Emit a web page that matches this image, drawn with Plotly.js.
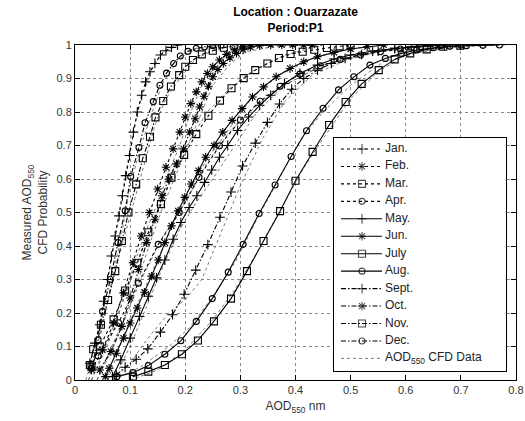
<!DOCTYPE html>
<html>
<head>
<meta charset="utf-8">
<script src="https://cdn.plot.ly/plotly-3.0.1.min.js"></script>
<style>html,body{margin:0;padding:0;background:#fff}</style>
</head>
<body>
<div id="chart" style="width:525px;height:421px"></div>
<script>
// ---- fitted CFD curves (AOD550 vs probability) ----
const janX = [0.027,0.036,0.045,0.052,0.059,0.066,0.073,0.080,0.086,0.092,0.099,0.106,0.113,0.121,0.128,0.136,0.145,0.155,0.165,0.175,0.186];
const janY = [0.05,0.11,0.165,0.235,0.30,0.37,0.43,0.49,0.55,0.61,0.67,0.74,0.80,0.85,0.89,0.92,0.945,0.97,0.983,0.993,1.0];
const febX = [0.030,0.050,0.070,0.088,0.105,0.120,0.135,0.150,0.165,0.178,0.190,0.200,0.210,0.220,0.230,0.240,0.250,0.262,0.275,0.290,0.305,0.320];
const febY = [0.03,0.09,0.17,0.26,0.35,0.43,0.50,0.57,0.635,0.69,0.74,0.785,0.825,0.86,0.89,0.915,0.935,0.955,0.972,0.985,0.995,1.0];
const marX = [0.030,0.045,0.070,0.091,0.113,0.133,0.156,0.175,0.198,0.220,0.242,0.263,0.284,0.306,0.327,0.349,0.370,0.391,0.413,0.434,0.457,0.480,0.500];
const marY = [0.04,0.10,0.181,0.267,0.35,0.441,0.525,0.604,0.672,0.734,0.789,0.834,0.871,0.901,0.925,0.945,0.961,0.973,0.98,0.986,0.991,0.996,1.0];
const aprX = [0.042,0.079,0.115,0.151,0.189,0.225,0.262,0.300,0.336,0.372,0.408,0.445,0.481,0.518,0.554,0.590,0.627,0.663,0.700];
const aprY = [0.072,0.171,0.289,0.405,0.50,0.605,0.699,0.776,0.832,0.877,0.913,0.938,0.957,0.970,0.980,0.988,0.994,0.998,1.0];
const mayX = [0.068,0.083,0.100,0.117,0.133,0.148,0.163,0.178,0.192,0.207,0.221,0.235,0.248,0.262,0.277,0.295,0.315,0.335,0.355,0.380,0.408,0.440,0.470,0.500,0.540,0.580,0.620,0.660];
const mayY = [0.01,0.06,0.125,0.19,0.25,0.305,0.358,0.42,0.47,0.515,0.55,0.59,0.627,0.665,0.70,0.745,0.785,0.82,0.85,0.885,0.915,0.94,0.958,0.97,0.982,0.99,0.996,1.0];
const junX = [0.055,0.062,0.075,0.088,0.100,0.113,0.126,0.139,0.151,0.163,0.175,0.187,0.199,0.211,0.224,0.237,0.252,0.268,0.285,0.303,0.322,0.342,0.365,0.390,0.415,0.440,0.470,0.500,0.530,0.560];
const junY = [0.01,0.035,0.08,0.125,0.17,0.215,0.262,0.31,0.358,0.41,0.46,0.505,0.545,0.585,0.625,0.665,0.70,0.74,0.775,0.81,0.845,0.875,0.905,0.93,0.95,0.965,0.978,0.988,0.995,1.0];
const julX = [0.105,0.133,0.163,0.194,0.223,0.252,0.283,0.312,0.342,0.372,0.400,0.431,0.461,0.491,0.520,0.551,0.580,0.608,0.638,0.668,0.699];
const julY = [0.01,0.025,0.045,0.077,0.118,0.175,0.243,0.325,0.415,0.504,0.595,0.681,0.761,0.83,0.884,0.925,0.957,0.975,0.987,0.995,0.998];
const augX = [0.076,0.105,0.133,0.163,0.192,0.220,0.249,0.278,0.305,0.334,0.363,0.392,0.420,0.450,0.478,0.506,0.535,0.563,0.592,0.620,0.650,0.680,0.710,0.740,0.770];
const augY = [0.01,0.022,0.043,0.077,0.117,0.175,0.243,0.322,0.405,0.497,0.582,0.667,0.744,0.811,0.866,0.905,0.94,0.96,0.975,0.985,0.992,0.996,0.998,0.999,1.0];
const sepX = [0.075,0.091,0.111,0.132,0.155,0.177,0.198,0.219,0.241,0.263,0.283,0.304,0.327,0.349,0.371,0.393,0.415,0.440,0.465,0.490,0.520,0.550,0.580,0.610,0.640,0.670];
const sepY = [0.015,0.038,0.062,0.093,0.143,0.195,0.256,0.328,0.404,0.486,0.561,0.639,0.707,0.769,0.824,0.868,0.90,0.925,0.945,0.96,0.972,0.982,0.99,0.995,0.998,1.0];
const octX = [0.045,0.065,0.085,0.100,0.115,0.130,0.145,0.158,0.170,0.184,0.197,0.208,0.218,0.226,0.234,0.242,0.250,0.259,0.269,0.281,0.293,0.305,0.318,0.335,0.355,0.375,0.395,0.415,0.430];
const octY = [0.03,0.085,0.16,0.245,0.33,0.41,0.48,0.55,0.60,0.645,0.69,0.74,0.78,0.815,0.847,0.877,0.905,0.927,0.945,0.962,0.975,0.986,0.994,0.998,1.0,1.0,1.0,1.0,1.0];
const novX = [0.027,0.033,0.047,0.060,0.073,0.085,0.097,0.111,0.123,0.136,0.146,0.160,0.174,0.189,0.200,0.214,0.230,0.250,0.270,0.289];
const novY = [0.045,0.092,0.165,0.239,0.325,0.415,0.50,0.584,0.662,0.726,0.784,0.833,0.876,0.91,0.935,0.955,0.972,0.983,0.992,0.998];
const decX = [0.030,0.042,0.050,0.064,0.078,0.091,0.101,0.116,0.127,0.142,0.154,0.166,0.179,0.191,0.205,0.220,0.235,0.250,0.265];
const decY = [0.035,0.12,0.205,0.30,0.41,0.505,0.607,0.694,0.768,0.831,0.88,0.916,0.945,0.967,0.981,0.99,0.995,0.998,1.0];

// ---- measured CFD data (dotted) ----
const janCX = [0.020,0.030,0.045,0.060,0.075,0.090,0.105,0.120,0.140,0.160,0.190];
const janCY = [0,0.06,0.17,0.30,0.45,0.60,0.74,0.84,0.93,0.98,1];
const febCX = [0.030,0.050,0.070,0.090,0.110,0.130,0.150,0.170,0.190,0.210,0.230,0.260,0.300];
const febCY = [0,0.07,0.15,0.25,0.36,0.45,0.53,0.62,0.70,0.80,0.88,0.95,1];
const marCX = [0.030,0.060,0.090,0.120,0.150,0.180,0.210,0.240,0.280,0.320,0.380,0.450];
const marCY = [0,0.12,0.25,0.38,0.50,0.63,0.72,0.80,0.87,0.92,0.97,1];
const aprCX = [0.040,0.080,0.120,0.160,0.200,0.240,0.280,0.330,0.380,0.450,0.550,0.650];
const aprCY = [0,0.15,0.30,0.43,0.53,0.65,0.74,0.82,0.88,0.94,0.98,1];
const mayCX = [0.070,0.100,0.130,0.160,0.190,0.220,0.250,0.290,0.330,0.380,0.450,0.550,0.650];
const mayCY = [0,0.10,0.22,0.34,0.45,0.53,0.60,0.70,0.80,0.88,0.94,0.98,1];
const junCX = [0.060,0.090,0.120,0.150,0.180,0.210,0.240,0.280,0.320,0.370,0.430,0.500,0.560];
const junCY = [0,0.14,0.25,0.36,0.47,0.58,0.66,0.75,0.84,0.91,0.96,0.99,1];
const julCX = [0.100,0.150,0.200,0.250,0.290,0.330,0.370,0.410,0.450,0.500,0.550,0.600,0.660,0.720];
const julCY = [0,0.03,0.09,0.18,0.27,0.38,0.50,0.62,0.72,0.84,0.92,0.97,0.99,1];
const augCX = [0.070,0.120,0.170,0.210,0.250,0.290,0.330,0.370,0.410,0.450,0.500,0.560,0.630,0.700,0.780];
const augCY = [0,0.04,0.10,0.16,0.25,0.35,0.48,0.60,0.72,0.80,0.88,0.95,0.98,0.995,1];
const sepCX = [0.070,0.100,0.130,0.170,0.200,0.230,0.260,0.300,0.340,0.380,0.430,0.500,0.580,0.680];
const sepCY = [0,0.05,0.12,0.20,0.24,0.30,0.42,0.58,0.72,0.83,0.91,0.96,0.99,1];
const octCX = [0.040,0.070,0.100,0.130,0.160,0.190,0.210,0.230,0.250,0.280,0.310,0.360,0.430];
const octCY = [0,0.10,0.22,0.38,0.52,0.64,0.72,0.80,0.88,0.94,0.98,0.995,1];
const novCX = [0.025,0.045,0.065,0.085,0.105,0.125,0.145,0.165,0.190,0.220,0.260,0.300];
const novCY = [0,0.12,0.28,0.40,0.52,0.64,0.76,0.84,0.90,0.96,0.99,1];
const decCX = [0.025,0.040,0.055,0.070,0.085,0.100,0.120,0.140,0.160,0.190,0.220,0.260];
const decCY = [0,0.10,0.20,0.32,0.44,0.58,0.70,0.80,0.89,0.96,0.99,1];

const monthNames = ['Jan.','Feb.','Mar.','Apr.','May.','Jun.','July','Aug.','Sept.','Oct.','Nov.','Dec.'];
const dataLabel = 'AOD<sub>550</sub> CFD Data';
const xTickVals = [0,0.1,0.2,0.3,0.4,0.5,0.6,0.7,0.8];
const yTickVals = [0,0.1,0.2,0.3,0.4,0.5,0.6,0.7,0.8,0.9,1];

const fitX = [janX,febX,marX,aprX,mayX,junX,julX,augX,sepX,octX,novX,decX];
const fitY = [janY,febY,marY,aprY,mayY,junY,julY,augY,sepY,octY,novY,decY];
const cfdX = [janCX,febCX,marCX,aprCX,mayCX,junCX,julCX,augCX,sepCX,octCX,novCX,decCX];
const cfdY = [janCY,febCY,marCY,aprCY,mayCY,junCY,julCY,augCY,sepCY,octCY,novCY,decCY];

// styles
const symbols = ['cross-thin-open','asterisk-open','square-open','circle-open'];
const symSize = {'cross-thin-open':7,'asterisk-open':7,'square-open':7,'circle-open':6};
const dashes = ['dot','dot','dot','dot','solid','solid','solid','solid','dashdot','dashdot','dashdot','dashdot'];
const dashDotPat = '5px,2px,1.5px,2px';
const FONT = 'Liberation Sans, Arial, sans-serif';

const traces = [];
for (let i = 0; i < 12; i++) {
  traces.push({x: cfdX[i], y: cfdY[i], type:'scatter', mode:'lines',
    line:{color:'#555', width:0.8, dash:'dot'}, xaxis:'x', yaxis:'y', hoverinfo:'skip'});
}
function lineDash(d){ return d === 'dashdot' ? dashDotPat : d; }
for (let i = 0; i < 12; i++) {
  const sym = symbols[i % 4];
  traces.push({x: fitX[i], y: fitY[i], type:'scatter', mode:'lines+markers',
    line:{color:'black', width:1.1, dash: lineDash(dashes[i])},
    marker:{symbol:sym, size:symSize[sym], color:'black', line:{color:'black', width:1.1}},
    xaxis:'x', yaxis:'y', hoverinfo:'skip'});
}

// ---- custom legend on an overlay axis (pixel-like coords) ----
const legL = 334, legR = 506, legT = 138, legB = 371;
traces.push({x:[legL,legR,legR,legL,legL], y:[legB,legB,legT,legT,legB], type:'scatter', mode:'none',
  fill:'toself', fillcolor:'white', xaxis:'x2', yaxis:'y2', hoverinfo:'skip'});
const rowY0 = 149, rowStep = 17.45;
for (let i = 0; i < 12; i++) {
  const sym = symbols[i % 4];
  const ry = rowY0 + i*rowStep;
  traces.push({x:[341,362,382], y:[ry,ry,ry], type:'scatter', mode:'lines+markers',
    line:{color:'black', width:1.1, dash: lineDash(dashes[i])},
    marker:{symbol:sym, size:[0,symSize[sym],0], color:'black', line:{color:'black', width:1.1}},
    xaxis:'x2', yaxis:'y2', hoverinfo:'skip'});
}
{
  const ry = rowY0 + 12*rowStep;
  traces.push({x:[341,382], y:[ry,ry], type:'scatter', mode:'lines',
    line:{color:'#555', width:0.8, dash:'dot'}, xaxis:'x2', yaxis:'y2', hoverinfo:'skip'});
}
const legLabels = monthNames.concat([dataLabel]);
traces.push({x: legLabels.map(()=>385),
  y: legLabels.map((_,i)=>rowY0 + i*rowStep),
  text: legLabels, type:'scatter', mode:'text', textposition:'middle right',
  textfont:{family:FONT, size:12, color:'#222'},
  xaxis:'x2', yaxis:'y2', hoverinfo:'skip'});

const pL = 75, pR = 516, pT = 45, pB = 380, W = 525, H = 421;
const axCommon = {showline:true, linecolor:'black', linewidth:1, mirror:'ticks', ticks:'inside', ticklen:5,
  tickcolor:'black', showgrid:true, gridcolor:'#888', griddash:'dot', gridwidth:1, zeroline:false,
  tickfont:{family:FONT, size:11, color:'#333'}};

const layout = {
  width:W, height:H,
  margin:{l:pL, r:W-pR, t:pT, b:H-pB},
  paper_bgcolor:'white', plot_bgcolor:'white',
  showlegend:false, hovermode:false,
  font:{family:FONT, size:11, color:'#333'},
  title:{text:'<b>Location : Ouarzazate</b><br><b>Period:P1</b>', xref:'paper', x:0.5, xanchor:'center',
    yref:'container', y:0.962, yanchor:'top', font:{family:FONT, size:12, color:'black'}},
  xaxis: Object.assign({}, axCommon, {range:[0,0.8], tickvals:xTickVals, ticktext:xTickVals.map(String),
    title:{text:'AOD<sub>550</sub> nm', standoff:6, font:{family:FONT, size:12, color:'#333'}}}),
  yaxis: Object.assign({}, axCommon, {range:[0,1], tickvals:yTickVals, ticktext:yTickVals.map(String),
    title:{text:'Measured AOD<sub>550</sub><br>CFD Probability', standoff:6, font:{family:FONT, size:12, color:'#333'}}}),
  xaxis2:{domain:[(legL-pL)/(pR-pL),(legR-pL)/(pR-pL)], range:[legL,legR], anchor:'y2', showline:true, mirror:true,
    linecolor:'black', linewidth:1, ticks:'', showticklabels:false, showgrid:false, zeroline:false},
  yaxis2:{domain:[(pB-legB)/(pB-pT),(pB-legT)/(pB-pT)], range:[legB,legT], anchor:'x2', showline:true, mirror:true,
    linecolor:'black', linewidth:1, ticks:'', showticklabels:false, showgrid:false, zeroline:false}
};

Plotly.newPlot('chart', traces, layout, {staticPlot:true, displayModeBar:false});
</script>
</body>
</html>
